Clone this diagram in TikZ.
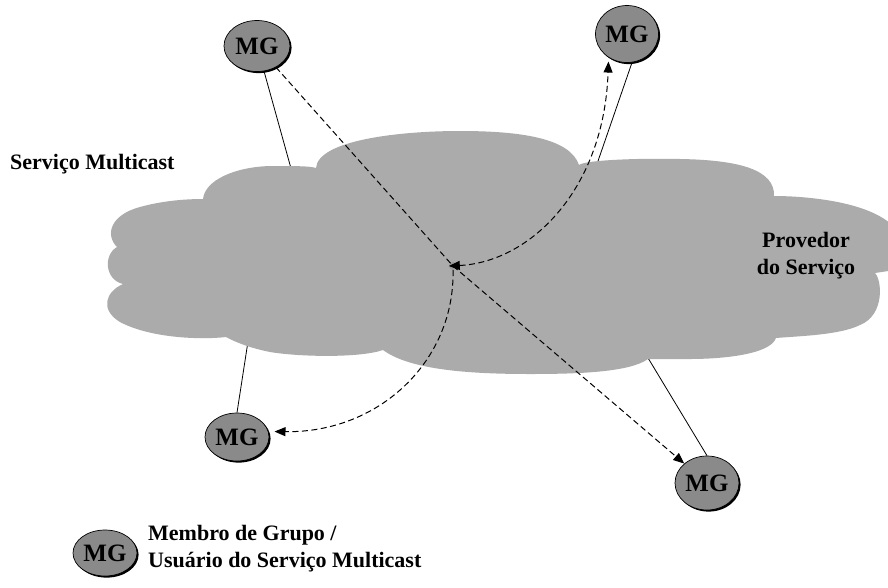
\documentclass[tikz,border=0pt]{standalone}
\usepackage{fontspec}
\setmainfont{Liberation Serif}
\usetikzlibrary{shapes.geometric,arrows.meta,shadows}
\definecolor{cloudgray}{RGB}{171,171,171}
\definecolor{mggray}{RGB}{138,138,138}
\definecolor{hubgray}{RGB}{152,152,152}
\begin{document}
\begin{tikzpicture}[x=1pt,y=-1pt,
  member/.style={ellipse, draw=black, line width=0.7pt, fill=mggray, inner sep=0pt,
    font=\fontsize{25}{25}\selectfont\bfseries,
    drop shadow={shadow xshift=1.6pt, shadow yshift=-1.6pt, opacity=1, fill=black}},
  link/.style={line width=0.8pt},
  flowline/.style={dash pattern=on 6pt off 3.5pt, line width=1pt},
  flow/.style={flowline, -{Triangle[length=11pt,width=9pt]}},
  label/.style={font=\fontsize{22}{27}\selectfont\bfseries, inner sep=0pt}]

\useasboundingbox (0,0) rectangle (888,587);

% group members
\node[member, minimum width=66pt, minimum height=51pt] (tl) at (257,46) {MG};
\node[member, minimum width=63pt, minimum height=57pt] (tr) at (627,34) {MG};
\node[member, minimum width=64pt, minimum height=48pt] (bl) at (237,437) {MG};
\node[member, minimum width=64pt, minimum height=54pt] (br) at (707,483) {MG};
\node[member, minimum width=64pt, minimum height=46pt] (leg) at (105,553) {MG};

% access links, running under the cloud
\coordinate (c1) at (297,190);
\coordinate (c2) at (588,190);
\coordinate (c3) at (251,322);
\coordinate (c4) at (639,343);
\draw[link] (tl) -- (c1);
\draw[link] (tr.-80) -- (c2);
\draw[link] (bl.north) -- (c3);
\draw[link] (br.north) -- (c4);

% provider cloud
\fill[cloudgray]
  (203,199) .. controls (205,180) and (235,167) .. (270,166)
            .. controls (295,166) and (310,166) .. (316,168)
            .. controls (318,140) and (400,131) .. (460,131)
            .. controls (520,131) and (570,138) .. (579,165)
            .. controls (585,160) and (640,158) .. (680,159)
            .. controls (740,160) and (775,170) .. (774,196)
            .. controls (800,196) and (870,200) .. (895,228)
            -- (895,270) -- (875,273)
            .. controls (882,280) and (885,315) .. (860,325)
            .. controls (840,335) and (800,336) .. (776,338)
            .. controls (770,355) and (720,359) .. (690,359)
            .. controls (670,359) and (655,359) .. (648,359)
            .. controls (630,372) and (580,374) .. (530,374)
            .. controls (470,374) and (410,370) .. (383,350)
            .. controls (360,358) and (300,357) .. (270,352)
            .. controls (250,348) and (235,342) .. (226,337)
            .. controls (200,340) and (150,338) .. (120,322)
            .. controls (100,310) and (105,292) .. (123,284)
            .. controls (105,280) and (103,255) .. (117,247)
            .. controls (105,235) and (110,215) .. (140,207)
            .. controls (165,200) and (190,199) .. (203,199) -- cycle;

% distribution point inside the provider
\node[circle, fill=hubgray, minimum size=8pt, inner sep=0pt] (hub) at (453,266) {};

% multicast flows
\draw[flowline] (tl) -- (hub.center);
\draw[flow] (hub.center) -- (br);
\draw[flowline, {Triangle[length=11pt,width=9pt]}-{Triangle[length=11pt,width=9pt]}, shorten >=4pt]
  (hub.west) .. controls (530,262) and (604,190) .. (tr.-128);
\draw[flow, shorten >=6pt]
  (hub.south) .. controls (455,360) and (380,433) .. (bl.10);

% labels
\node[label, anchor=base west] (svc) at (10,169) {Serviço Multicast};
\node[label, align=center] (prov) at (806,256) {Provedor\\do Serviço};
\node[label, align=left, anchor=base west] (legtext) at (148,567)
  {Membro de Grupo /\\Usuário do Serviço Multicast};
\end{tikzpicture}
\end{document}
